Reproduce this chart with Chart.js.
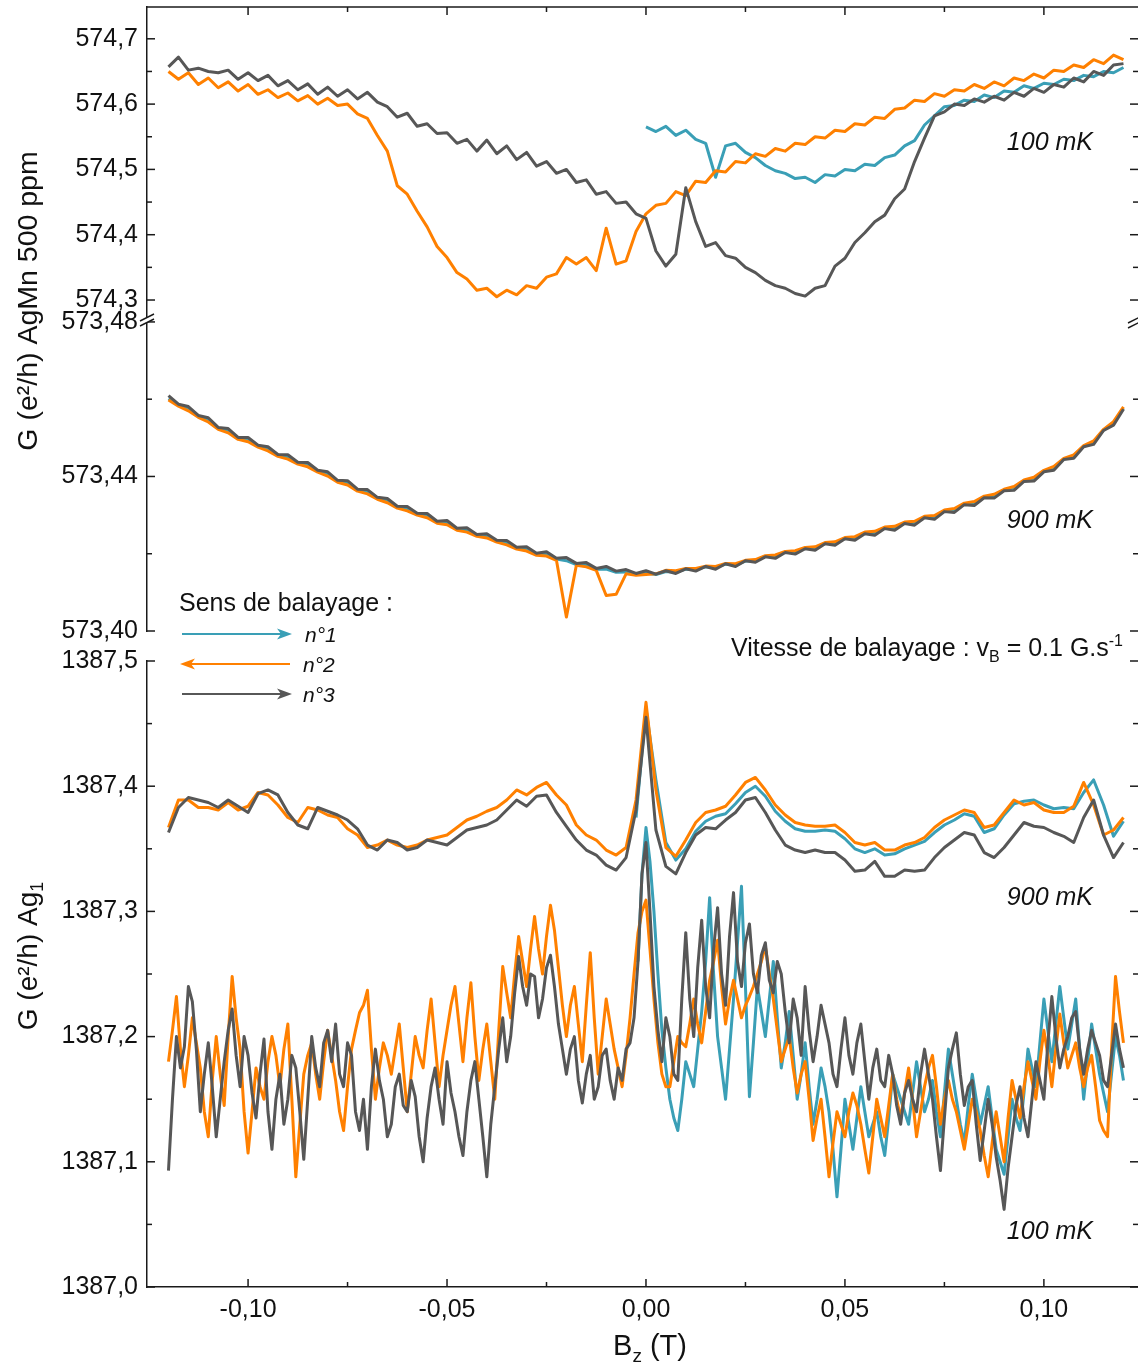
<!DOCTYPE html>
<html>
<head>
<meta charset="utf-8">
<title>G(Bz) AgMn / Ag1</title>
<script src="https://cdn.jsdelivr.net/npm/chart.js@4.4.1/dist/chart.umd.min.js"></script>
<style>
  html, body { margin: 0; padding: 0; background: #fff; }
  #wrap { width: 1138px; height: 1362px; }
</style>
</head>
<body>
<div id="wrap"><canvas id="myChart" width="1138" height="1362"></canvas></div>
<script>
// field sweeps, in mT
const fieldCoarse = [
  -120, -117.5, -115, -112.5, -110, -107.5, -105, -102.5, -100, -97.5,
  -95, -92.5, -90, -87.5, -85, -82.5, -80, -77.5, -75, -72.5,
  -70, -67.5, -65, -62.5, -60, -57.5, -55, -52.5, -50, -47.5,
  -45, -42.5, -40, -37.5, -35, -32.5, -30, -27.5, -25, -22.5,
  -20, -17.5, -15, -12.5, -10, -7.5, -5, -2.5, 0, 2.5,
  5, 7.5, 10, 12.5, 15, 17.5, 20, 22.5, 25, 27.5,
  30, 32.5, 35, 37.5, 40, 42.5, 45, 47.5, 50, 52.5,
  55, 57.5, 60, 62.5, 65, 67.5, 70, 72.5, 75, 77.5,
  80, 82.5, 85, 87.5, 90, 92.5, 95, 97.5, 100, 102.5,
  105, 107.5, 110, 112.5, 115, 117.5, 120
];
const fieldFine = [
  -120, -119, -118, -117, -116, -115, -114, -113, -112, -111,
  -110, -109, -108, -107, -106, -105, -104, -103, -102, -101,
  -100, -99, -98, -97, -96, -95, -94, -93, -92, -91,
  -90, -89, -88, -87, -86, -85, -84, -83, -82, -81,
  -80, -79, -78, -77, -76, -75, -74, -73, -72, -71,
  -70, -69, -68, -67, -66, -65, -64, -63, -62, -61,
  -60, -59, -58, -57, -56, -55, -54, -53, -52, -51,
  -50, -49, -48, -47, -46, -45, -44, -43, -42, -41,
  -40, -39, -38, -37, -36, -35, -34, -33, -32, -31,
  -30, -29, -28, -27, -26, -25, -24, -23, -22, -21,
  -20, -19, -18, -17, -16, -15, -14, -13, -12, -11,
  -10, -9, -8, -7, -6, -5, -4, -3, -2, -1,
  0, 1, 2, 3, 4, 5, 6, 7, 8, 9,
  10, 11, 12, 13, 14, 15, 16, 17, 18, 19,
  20, 21, 22, 23, 24, 25, 26, 27, 28, 29,
  30, 31, 32, 33, 34, 35, 36, 37, 38, 39,
  40, 41, 42, 43, 44, 45, 46, 47, 48, 49,
  50, 51, 52, 53, 54, 55, 56, 57, 58, 59,
  60, 61, 62, 63, 64, 65, 66, 67, 68, 69,
  70, 71, 72, 73, 74, 75, 76, 77, 78, 79,
  80, 81, 82, 83, 84, 85, 86, 87, 88, 89,
  90, 91, 92, 93, 94, 95, 96, 97, 98, 99,
  100, 101, 102, 103, 104, 105, 106, 107, 108, 109,
  110, 111, 112, 113, 114, 115, 116, 117, 118, 119,
  120
];

// AgMn 500 ppm, 100 mK (fieldCoarse)
const agmn100Teal = [
  null, null, null, null, null, null, null, null, null, null,
  null, null, null, null, null, null, null, null, null, null,
  null, null, null, null, null, null, null, null, null, null,
  null, null, null, null, null, null, null, null, null, null,
  null, null, null, null, null, null, null, null, 574.565, 574.558,
  574.566, 574.552, 574.560, 574.546, 574.540, 574.488, 574.536, 574.540, 574.526, 574.518,
  574.506, 574.498, 574.494, 574.486, 574.488, 574.480, 574.492, 574.490, 574.500, 574.498,
  574.508, 574.506, 574.518, 574.522, 574.536, 574.544, 574.568, 574.582, 574.596, 574.598,
  574.606, 574.604, 574.614, 574.610, 574.620, 574.618, 574.628, 574.624, 574.632, 574.630,
  574.638, 574.636, 574.644, 574.642, 574.650, 574.648, 574.656
];
const agmn100Orange = [
  574.650, 574.638, 574.648, 574.630, 574.640, 574.625, 574.634, 574.620, 574.630, 574.615,
  574.622, 574.610, 574.617, 574.605, 574.613, 574.600, 574.609, 574.598, 574.600, 574.585,
  574.578, 574.552, 574.528, 574.475, 574.462, 574.436, 574.412, 574.382, 574.365, 574.342,
  574.332, 574.315, 574.318, 574.305, 574.315, 574.308, 574.322, 574.318, 574.335, 574.340,
  574.365, 574.355, 574.365, 574.345, 574.410, 574.355, 574.360, 574.405, 574.432, 574.445,
  574.448, 574.466, 574.460, 574.482, 574.480, 574.498, 574.496, 574.512, 574.510, 574.524,
  574.520, 574.532, 574.528, 574.540, 574.538, 574.550, 574.548, 574.560, 574.558, 574.570,
  574.568, 574.580, 574.578, 574.592, 574.594, 574.606, 574.604, 574.616, 574.612, 574.622,
  574.620, 574.630, 574.624, 574.634, 574.628, 574.640, 574.636, 574.646, 574.640, 574.652,
  574.650, 574.660, 574.656, 574.668, 574.662, 574.675, 574.668
];
const agmn100Gray = [
  574.657, 574.672, 574.652, 574.655, 574.650, 574.648, 574.652, 574.638, 574.648, 574.636,
  574.644, 574.628, 574.636, 574.622, 574.631, 574.615, 574.626, 574.612, 574.622, 574.608,
  574.618, 574.603, 574.596, 574.580, 574.586, 574.566, 574.570, 574.555, 574.556, 574.540,
  574.546, 574.528, 574.545, 574.524, 574.536, 574.515, 574.526, 574.505, 574.512, 574.494,
  574.500, 574.480, 574.484, 574.462, 574.466, 574.448, 574.450, 574.432, 574.425, 574.375,
  574.352, 574.370, 574.472, 574.420, 574.382, 574.388, 574.368, 574.364, 574.350, 574.342,
  574.330, 574.322, 574.318, 574.310, 574.306, 574.318, 574.322, 574.352, 574.364, 574.388,
  574.403, 574.420, 574.430, 574.455, 574.470, 574.512, 574.548, 574.582, 574.588, 574.600,
  574.598, 574.608, 574.603, 574.612, 574.606, 574.618, 574.612, 574.624, 574.618, 574.630,
  574.626, 574.640, 574.634, 574.650, 574.644, 574.660, 574.662
];

// AgMn 500 ppm, 900 mK (fieldCoarse)
const agmn900Teal = [
  573.4601, 573.4585, 573.4574, 573.4556, 573.4545, 573.4525, 573.4517, 573.4499, 573.4494, 573.4479,
  573.4470, 573.4455, 573.4449, 573.4435, 573.4429, 573.4414, 573.4405, 573.4388, 573.4382, 573.4365,
  573.4359, 573.4344, 573.4336, 573.4321, 573.4315, 573.4303, 573.4297, 573.4282, 573.4279, 573.4264,
  573.4260, 573.4248, 573.4245, 573.4233, 573.4227, 573.4215, 573.4211, 573.4199, 573.4198, 573.4186,
  573.4182, 573.4172, 573.4170, 573.4160, 573.4160, 573.4152, 573.4153, 573.4147, 573.4150, 573.4146,
  573.4154, 573.4152, 573.4160, 573.4159, 573.4166, 573.4164, 573.4173, 573.4171, 573.4181, 573.4182,
  573.4193, 573.4194, 573.4204, 573.4205, 573.4214, 573.4215, 573.4227, 573.4228, 573.4240, 573.4241,
  573.4254, 573.4255, 573.4267, 573.4268, 573.4280, 573.4281, 573.4295, 573.4296, 573.4311, 573.4314,
  573.4329, 573.4332, 573.4347, 573.4351, 573.4365, 573.4371, 573.4389, 573.4395, 573.4414, 573.4423,
  573.4445, 573.4453, 573.4478, 573.4489, 573.4520, 573.4539, 573.4577
];
const agmn900Orange = [
  573.4598, 573.4582, 573.4570, 573.4553, 573.4541, 573.4522, 573.4513, 573.4496, 573.4490, 573.4476,
  573.4466, 573.4452, 573.4445, 573.4432, 573.4425, 573.4411, 573.4401, 573.4385, 573.4378, 573.4362,
  573.4355, 573.4341, 573.4332, 573.4318, 573.4311, 573.4300, 573.4293, 573.4279, 573.4275, 573.4261,
  573.4256, 573.4245, 573.4241, 573.4230, 573.4223, 573.4212, 573.4207, 573.4196, 573.4194, 573.4183,
  573.4036, 573.4170, 573.4166, 573.4157, 573.4092, 573.4095, 573.4148, 573.4144, 573.4146, 573.4148,
  573.4157, 573.4156, 573.4162, 573.4162, 573.4168, 573.4167, 573.4175, 573.4174, 573.4183, 573.4185,
  573.4195, 573.4197, 573.4206, 573.4208, 573.4216, 573.4218, 573.4229, 573.4231, 573.4242, 573.4244,
  573.4256, 573.4258, 573.4269, 573.4271, 573.4282, 573.4284, 573.4297, 573.4299, 573.4313, 573.4317,
  573.4331, 573.4335, 573.4349, 573.4354, 573.4367, 573.4374, 573.4391, 573.4398, 573.4416, 573.4426,
  573.4447, 573.4456, 573.4480, 573.4492, 573.4522, 573.4542, 573.4580
];
const agmn900Gray = [
  573.4609, 573.4587, 573.4581, 573.4558, 573.4552, 573.4527, 573.4524, 573.4501, 573.4501, 573.4481,
  573.4477, 573.4457, 573.4456, 573.4437, 573.4436, 573.4416, 573.4412, 573.4390, 573.4389, 573.4367,
  573.4366, 573.4346, 573.4343, 573.4323, 573.4322, 573.4305, 573.4304, 573.4284, 573.4286, 573.4266,
  573.4267, 573.4250, 573.4252, 573.4235, 573.4234, 573.4217, 573.4218, 573.4201, 573.4205, 573.4188,
  573.4190, 573.4175, 573.4177, 573.4162, 573.4167, 573.4155, 573.4159, 573.4149, 573.4156, 573.4147,
  573.4156, 573.4149, 573.4161, 573.4155, 573.4167, 573.4160, 573.4174, 573.4167, 573.4182, 573.4178,
  573.4192, 573.4188, 573.4203, 573.4199, 573.4213, 573.4209, 573.4226, 573.4222, 573.4239, 573.4235,
  573.4252, 573.4248, 573.4265, 573.4261, 573.4278, 573.4274, 573.4293, 573.4289, 573.4309, 573.4307,
  573.4327, 573.4325, 573.4345, 573.4344, 573.4363, 573.4364, 573.4387, 573.4388, 573.4412, 573.4416,
  573.4444, 573.4447, 573.4477, 573.4483, 573.4519, 573.4533, 573.4574
];

// Ag1, 900 mK (fieldCoarse)
const ag900Teal = [
  null, null, null, null, null, null, null, null, null, null,
  null, null, null, null, null, null, null, null, null, null,
  null, null, null, null, null, null, null, null, null, null,
  null, null, null, null, null, null, null, null, null, null,
  null, null, null, null, null, null, null, 1387.375, 1387.462, 1387.405,
  1387.355, 1387.341, 1387.350, 1387.364, 1387.372, 1387.376, 1387.378, 1387.386, 1387.395, 1387.400,
  1387.392, 1387.380, 1387.372, 1387.366, 1387.364, 1387.364, 1387.365, 1387.364, 1387.358, 1387.350,
  1387.347, 1387.350, 1387.345, 1387.346, 1387.350, 1387.353, 1387.356, 1387.363, 1387.369, 1387.373,
  1387.378, 1387.376, 1387.363, 1387.366, 1387.377, 1387.386, 1387.388, 1387.389, 1387.385, 1387.382,
  1387.383, 1387.382, 1387.395, 1387.405, 1387.385, 1387.360, 1387.372
];
const ag900Orange = [
  1387.367, 1387.389, 1387.389, 1387.383, 1387.383, 1387.381, 1387.387, 1387.381, 1387.384, 1387.395,
  1387.393, 1387.385, 1387.375, 1387.371, 1387.383, 1387.381, 1387.377, 1387.375, 1387.366, 1387.361,
  1387.351, 1387.353, 1387.357, 1387.353, 1387.351, 1387.353, 1387.357, 1387.359, 1387.361, 1387.367,
  1387.373, 1387.376, 1387.380, 1387.383, 1387.389, 1387.397, 1387.393, 1387.399, 1387.403, 1387.393,
  1387.385, 1387.369, 1387.361, 1387.357, 1387.349, 1387.345, 1387.351, 1387.389, 1387.467, 1387.397,
  1387.351, 1387.344, 1387.357, 1387.371, 1387.379, 1387.381, 1387.384, 1387.393, 1387.403, 1387.407,
  1387.397, 1387.385, 1387.377, 1387.371, 1387.369, 1387.368, 1387.368, 1387.369, 1387.363, 1387.355,
  1387.353, 1387.355, 1387.349, 1387.349, 1387.353, 1387.355, 1387.359, 1387.367, 1387.373, 1387.377,
  1387.381, 1387.379, 1387.367, 1387.369, 1387.379, 1387.389, 1387.385, 1387.387, 1387.381, 1387.379,
  1387.379, 1387.384, 1387.403, 1387.385, 1387.361, 1387.365, 1387.375
];
const ag900Gray = [
  1387.363, 1387.383, 1387.391, 1387.389, 1387.387, 1387.383, 1387.389, 1387.384, 1387.379, 1387.394,
  1387.397, 1387.393, 1387.379, 1387.369, 1387.366, 1387.383, 1387.380, 1387.377, 1387.373, 1387.366,
  1387.353, 1387.349, 1387.357, 1387.355, 1387.349, 1387.351, 1387.357, 1387.355, 1387.353, 1387.359,
  1387.365, 1387.367, 1387.369, 1387.373, 1387.381, 1387.389, 1387.384, 1387.392, 1387.393, 1387.379,
  1387.368, 1387.357, 1387.349, 1387.345, 1387.337, 1387.333, 1387.343, 1387.381, 1387.455, 1387.365,
  1387.336, 1387.330, 1387.347, 1387.361, 1387.367, 1387.366, 1387.373, 1387.379, 1387.389, 1387.391,
  1387.379, 1387.365, 1387.353, 1387.349, 1387.347, 1387.349, 1387.347, 1387.347, 1387.341, 1387.332,
  1387.333, 1387.340, 1387.328, 1387.328, 1387.333, 1387.332, 1387.333, 1387.343, 1387.351, 1387.357,
  1387.363, 1387.361, 1387.347, 1387.343, 1387.351, 1387.361, 1387.371, 1387.368, 1387.367, 1387.363,
  1387.360, 1387.355, 1387.375, 1387.389, 1387.361, 1387.343, 1387.355
];

// Ag1, 100 mK (fieldFine); sweep n°1 only recorded from -2 mT upward
const ag100Teal = [
  1387.260, 1387.330,
  1387.367, 1387.340, 1387.300, 1387.250, 1387.205, 1387.175, 1387.150, 1387.135, 1387.125, 1387.150,
  1387.180, 1387.170, 1387.160, 1387.190, 1387.220, 1387.260, 1387.311, 1387.250, 1387.200, 1387.175,
  1387.150, 1387.190, 1387.230, 1387.275, 1387.320, 1387.240, 1387.152, 1387.195, 1387.240, 1387.220,
  1387.200, 1387.230, 1387.260, 1387.215, 1387.175, 1387.195, 1387.220, 1387.185, 1387.150, 1387.170,
  1387.195, 1387.160, 1387.130, 1387.150, 1387.175, 1387.160, 1387.140, 1387.110, 1387.072, 1387.110,
  1387.150, 1387.130, 1387.110, 1387.135, 1387.160, 1387.140, 1387.120, 1387.130, 1387.140, 1387.120,
  1387.105, 1387.135, 1387.170, 1387.160, 1387.150, 1387.140, 1387.130, 1387.155, 1387.180, 1387.160,
  1387.140, 1387.150, 1387.165, 1387.140, 1387.120, 1387.155, 1387.190, 1387.170, 1387.150, 1387.130,
  1387.115, 1387.145, 1387.170, 1387.150, 1387.130, 1387.145, 1387.160, 1387.135, 1387.110, 1387.100,
  1387.090, 1387.120, 1387.150, 1387.135, 1387.125, 1387.155, 1387.190, 1387.175, 1387.160, 1387.195,
  1387.230, 1387.205, 1387.180, 1387.210, 1387.240, 1387.215, 1387.190, 1387.210, 1387.230, 1387.190,
  1387.150, 1387.180, 1387.210, 1387.190, 1387.170, 1387.155, 1387.140, 1387.170, 1387.200, 1387.185,
  1387.165
];
const ag100Orange = [
  1387.180, 1387.205, 1387.232, 1387.190, 1387.160, 1387.185, 1387.215, 1387.195, 1387.175, 1387.140,
  1387.120, 1387.165, 1387.200, 1387.170, 1387.145, 1387.200, 1387.248, 1387.215, 1387.190, 1387.140,
  1387.107, 1387.140, 1387.175, 1387.160, 1387.150, 1387.180, 1387.200, 1387.185, 1387.160, 1387.190,
  1387.210, 1387.150, 1387.088, 1387.130, 1387.170, 1387.185, 1387.195, 1387.170, 1387.150, 1387.180,
  1387.205, 1387.185, 1387.165, 1387.140, 1387.125, 1387.160, 1387.190, 1387.205, 1387.219, 1387.225,
  1387.237, 1387.190, 1387.150, 1387.175, 1387.195, 1387.185, 1387.170, 1387.190, 1387.210, 1387.175,
  1387.140, 1387.170, 1387.200, 1387.185, 1387.175, 1387.205, 1387.230, 1387.195, 1387.160, 1387.185,
  1387.205, 1387.225, 1387.240, 1387.210, 1387.180, 1387.215, 1387.243, 1387.200, 1387.165, 1387.190,
  1387.210, 1387.180, 1387.150, 1387.205, 1387.256, 1387.235, 1387.215, 1387.250, 1387.280, 1387.260,
  1387.240, 1387.270, 1387.296, 1387.270, 1387.250, 1387.280, 1387.305, 1387.285, 1387.255, 1387.225,
  1387.200, 1387.225, 1387.240, 1387.210, 1387.180, 1387.225, 1387.267, 1387.215, 1387.170, 1387.200,
  1387.230, 1387.210, 1387.190, 1387.175, 1387.160, 1387.185, 1387.215, 1387.250, 1387.283, 1387.300,
  1387.309, 1387.270, 1387.230, 1387.195, 1387.170, 1387.160, 1387.160, 1387.180, 1387.200, 1387.195,
  1387.192, 1387.210, 1387.230, 1387.210, 1387.195, 1387.220, 1387.245, 1387.260, 1387.277, 1387.240,
  1387.210, 1387.230, 1387.245, 1387.230, 1387.215, 1387.225, 1387.232, 1387.240, 1387.250, 1387.260,
  1387.272, 1387.250, 1387.230, 1387.205, 1387.180, 1387.190, 1387.200, 1387.175, 1387.155, 1387.170,
  1387.180, 1387.150, 1387.117, 1387.135, 1387.150, 1387.120, 1387.088, 1387.115, 1387.140, 1387.130,
  1387.120, 1387.140, 1387.155, 1387.145, 1387.130, 1387.110, 1387.091, 1387.120, 1387.150, 1387.135,
  1387.120, 1387.145, 1387.170, 1387.150, 1387.135, 1387.155, 1387.175, 1387.150, 1387.120, 1387.140,
  1387.160, 1387.175, 1387.185, 1387.160, 1387.130, 1387.150, 1387.165, 1387.150, 1387.140, 1387.125,
  1387.110, 1387.130, 1387.150, 1387.140, 1387.125, 1387.105, 1387.088, 1387.115, 1387.140, 1387.120,
  1387.100, 1387.135, 1387.165, 1387.150, 1387.135, 1387.160, 1387.180, 1387.165, 1387.150, 1387.180,
  1387.205, 1387.185, 1387.160, 1387.190, 1387.218, 1387.195, 1387.175, 1387.185, 1387.195, 1387.175,
  1387.160, 1387.175, 1387.185, 1387.160, 1387.133, 1387.125, 1387.120, 1387.190, 1387.248, 1387.220,
  1387.195
];
const ag100Gray = [
  1387.093, 1387.150, 1387.200, 1387.175, 1387.192, 1387.240, 1387.228, 1387.190, 1387.140, 1387.170,
  1387.195, 1387.160, 1387.120, 1387.150, 1387.180, 1387.205, 1387.222, 1387.185, 1387.160, 1387.200,
  1387.185, 1387.155, 1387.135, 1387.170, 1387.198, 1387.140, 1387.110, 1387.150, 1387.170, 1387.130,
  1387.150, 1387.185, 1387.175, 1387.140, 1387.102, 1387.150, 1387.200, 1387.175, 1387.160, 1387.195,
  1387.205, 1387.180, 1387.210, 1387.170, 1387.160, 1387.195, 1387.185, 1387.140, 1387.125, 1387.150,
  1387.110, 1387.160, 1387.190, 1387.165, 1387.150, 1387.120, 1387.130, 1387.160, 1387.170, 1387.145,
  1387.140, 1387.165, 1387.152, 1387.120, 1387.100, 1387.135, 1387.160, 1387.175, 1387.150, 1387.130,
  1387.180, 1387.155, 1387.140, 1387.120, 1387.105, 1387.140, 1387.165, 1387.180, 1387.150, 1387.120,
  1387.088, 1387.130, 1387.160, 1387.190, 1387.215, 1387.180, 1387.200, 1387.235, 1387.264, 1387.240,
  1387.225, 1387.250, 1387.248, 1387.215, 1387.230, 1387.255, 1387.265, 1387.240, 1387.210, 1387.190,
  1387.170, 1387.190, 1387.200, 1387.165, 1387.147, 1387.170, 1387.185, 1387.150, 1387.160, 1387.185,
  1387.190, 1387.165, 1387.150, 1387.175, 1387.165, 1387.190, 1387.195, 1387.215, 1387.260, 1387.330,
  1387.355, 1387.300, 1387.240, 1387.205, 1387.180, 1387.215, 1387.200, 1387.170, 1387.165, 1387.230,
  1387.283, 1387.230, 1387.200, 1387.255, 1387.293, 1387.240, 1387.215, 1387.270, 1387.303, 1387.250,
  1387.225, 1387.280, 1387.315, 1387.260, 1387.240, 1387.275, 1387.290, 1387.250, 1387.235, 1387.265,
  1387.275, 1387.245, 1387.235, 1387.260, 1387.250, 1387.220, 1387.195, 1387.230, 1387.215, 1387.185,
  1387.240, 1387.205, 1387.180, 1387.200, 1387.225, 1387.210, 1387.195, 1387.170, 1387.160, 1387.190,
  1387.215, 1387.185, 1387.170, 1387.195, 1387.210, 1387.180, 1387.150, 1387.175, 1387.190, 1387.165,
  1387.160, 1387.185, 1387.170, 1387.145, 1387.130, 1387.155, 1387.165, 1387.150, 1387.140, 1387.170,
  1387.190, 1387.170, 1387.150, 1387.120, 1387.093, 1387.135, 1387.175, 1387.190, 1387.203, 1387.170,
  1387.145, 1387.160, 1387.165, 1387.130, 1387.101, 1387.125, 1387.150, 1387.130, 1387.104, 1387.085,
  1387.062, 1387.095, 1387.120, 1387.145, 1387.160, 1387.135, 1387.120, 1387.150, 1387.180, 1387.165,
  1387.150, 1387.195, 1387.232, 1387.200, 1387.175, 1387.190, 1387.200, 1387.215, 1387.220, 1387.190,
  1387.170, 1387.190, 1387.205, 1387.195, 1387.185, 1387.165, 1387.160, 1387.185, 1387.210, 1387.190,
  1387.175
];

// ticks
const xTicksMajor = [-0.10, -0.05, 0, 0.05, 0.10];
const xTickLabels = ["-0,10", "-0,05", "0,00", "0,05", "0,10"];
const xTicksMinor = [-0.075, -0.025, 0.025, 0.075];
const topTicksMajor = [574.3, 574.4, 574.5, 574.6, 574.7];
const topTickLabels = ["574,3", "574,4", "574,5", "574,6", "574,7"];
const topTicksMinor = [574.35, 574.45, 574.55, 574.65];
const midTicksMajor = [573.40, 573.44, 573.48];
const midTickLabels = ["573,40", "573,44", "573,48"];
const midTicksMinor = [573.42, 573.46];
const botTicksMajor = [1387.0, 1387.1, 1387.2, 1387.3, 1387.4, 1387.5];
const botTickLabels = ["1387,0", "1387,1", "1387,2", "1387,3", "1387,4", "1387,5"];
const botTicksMinor = [1387.05, 1387.15, 1387.25, 1387.35, 1387.45];

const TEAL = "#3a9fb6";
const ORANGE = "#ff8000";
const GRAY = "#575757";
const INK = "#1a1a1a";
const FAMILY = "'Liberation Sans', Arial, sans-serif";

// shorter series are aligned on the end of the sweep
const toXY = (fields, values) => {
  const off = fields.length - values.length;
  return values.map((v, i) => ({ x: fields[i + off] / 1000, y: v }));
};

const trace = (label, color, yAxisID, fields, values, order) => ({
  label,
  data: toXY(fields, values),
  yAxisID,
  borderColor: color,
  backgroundColor: color,
  borderWidth: 3,
  borderJoinStyle: "round",
  pointRadius: 0,
  tension: 0,
  order,
});

const tickSetup = (majors, labels, minors) => ({
  afterBuildTicks: scale => {
    scale.ticks = majors.concat(minors).map(v => ({ value: v }));
  },
  callback: value => {
    const k = majors.findIndex(m => Math.abs(m - value) < 1e-7);
    return k >= 0 ? labels[k] : "";
  },
});

const yAxis = (majors, labels, minors, min, max, weight, stackWeight) => {
  const t = tickSetup(majors, labels, minors);
  return {
    type: "linear",
    position: "left",
    stack: "panels",
    stackWeight,
    weight,
    min,
    max,
    grid: { display: false, drawTicks: false },
    border: { display: true, color: INK, width: 1.5 },
    ticks: { autoSkip: false, padding: 9, color: "#111", font: { family: FAMILY, size: 25 }, callback: t.callback },
    afterBuildTicks: t.afterBuildTicks,
    afterFit: scale => {
      scale.width = 147;
      scale.paddingTop = 0;
      scale.paddingBottom = 0;
    },
  };
};

const line = (ctx, x1, y1, x2, y2) => {
  ctx.beginPath();
  ctx.moveTo(x1, y1);
  ctx.lineTo(x2, y2);
  ctx.stroke();
};

// text made of runs (normal / sub / sup)
const runs = (ctx, parts, x, y, align) => {
  let total = 0;
  parts.forEach(p => {
    ctx.font = `${p.italic ? "italic " : ""}${p.size}px ${FAMILY}`;
    p.w = ctx.measureText(p.text).width;
    total += p.w;
  });
  let cx = align === "right" ? x - total : align === "center" ? x - total / 2 : x;
  parts.forEach(p => {
    ctx.font = `${p.italic ? "italic " : ""}${p.size}px ${FAMILY}`;
    ctx.fillText(p.text, cx, y + (p.dy || 0));
    cx += p.w;
  });
};

const arrow = (ctx, color, x1, x2, y) => {
  const dir = Math.sign(x2 - x1);
  ctx.strokeStyle = color;
  ctx.fillStyle = color;
  ctx.lineWidth = 2;
  line(ctx, x1, y, x2 - dir * 10, y);
  ctx.beginPath();
  ctx.moveTo(x2, y);
  ctx.lineTo(x2 - dir * 15, y - 5.5);
  ctx.lineTo(x2 - dir * 11, y);
  ctx.lineTo(x2 - dir * 15, y + 5.5);
  ctx.closePath();
  ctx.fill();
};

const breakMark = (ctx, cx, cy) => {
  ctx.fillStyle = "#fff";
  ctx.beginPath();
  ctx.moveTo(cx - 7, cy + 1);
  ctx.lineTo(cx + 7, cy - 6);
  ctx.lineTo(cx + 7, cy - 1);
  ctx.lineTo(cx - 7, cy + 6);
  ctx.closePath();
  ctx.fill();
  ctx.strokeStyle = INK;
  ctx.lineWidth = 1.5;
  line(ctx, cx - 7, cy + 1, cx + 7, cy - 6);
  line(ctx, cx - 7, cy + 6, cx + 7, cy - 1);
};

const decor = {
  id: "decor",
  afterDraw(chart) {
    const { ctx, chartArea: area, scales } = chart;
    const L = area.left, R = 1138, T = area.top, B = area.bottom;
    ctx.save();
    ctx.strokeStyle = INK;
    ctx.lineWidth = 1.5;
    line(ctx, L, T, R, T);

    // inward ticks
    scales.x.ticks.forEach(t => {
      const len = t.label ? 8 : 5;
      const px = scales.x.getPixelForValue(t.value);
      line(ctx, px, B, px, B - len);
      line(ctx, px, T, px, T + len);
    });
    ["yTop", "yMid", "yBot"].forEach(id => {
      const s = scales[id];
      s.ticks.forEach(t => {
        const len = t.label ? 8 : 5;
        const py = s.getPixelForValue(t.value);
        line(ctx, L, py, L + len, py);
        line(ctx, R, py, R - len, py);
      });
    });

    // axis break between the two AgMn panels
    const yb = scales.yTop.bottom;
    breakMark(ctx, L, yb);
    breakMark(ctx, R - 3, yb + 2);

    // legend
    ctx.fillStyle = "#111";
    ctx.textBaseline = "alphabetic";
    runs(ctx, [{ text: "Sens de balayage :", size: 25 }], 179, 611, "left");
    arrow(ctx, TEAL, 182, 292, 634);
    arrow(ctx, ORANGE, 290, 180, 664);
    arrow(ctx, GRAY, 182, 292, 694);
    ctx.fillStyle = "#111";
    runs(ctx, [{ text: "n°1", size: 21, italic: true }], 305, 642, "left");
    runs(ctx, [{ text: "n°2", size: 21, italic: true }], 303, 672, "left");
    runs(ctx, [{ text: "n°3", size: 21, italic: true }], 303, 702, "left");

    // annotations
    runs(ctx, [{ text: "100 mK", size: 25, italic: true }], 1093, 150, "right");
    runs(ctx, [{ text: "900 mK", size: 25, italic: true }], 1093, 528, "right");
    runs(ctx, [{ text: "900 mK", size: 25, italic: true }], 1093, 905, "right");
    runs(ctx, [{ text: "100 mK", size: 25, italic: true }], 1093, 1239, "right");
    runs(ctx, [
      { text: "Vitesse de balayage : v", size: 25 },
      { text: "B", size: 16, dy: 6 },
      { text: " = 0.1 G.s", size: 25 },
      { text: "-1", size: 16, dy: -10 },
    ], 1123, 656, "right");

    // axis titles
    runs(ctx, [
      { text: "B", size: 29 },
      { text: "z", size: 19, dy: 7 },
      { text: " (T)", size: 29 },
    ], 650, 1355, "center");

    ctx.save();
    ctx.translate(37, 301);
    ctx.rotate(-Math.PI / 2);
    runs(ctx, [{ text: "G (e²/h) AgMn 500 ppm", size: 28.5 }], 0, 0, "center");
    ctx.restore();

    ctx.save();
    ctx.translate(37, 956);
    ctx.rotate(-Math.PI / 2);
    runs(ctx, [
      { text: "G (e²/h) Ag", size: 28 },
      { text: "1", size: 18, dy: 6 },
    ], 0, 0, "center");
    ctx.restore();

    ctx.restore();
  },
};

const xt = tickSetup(xTicksMajor, xTickLabels, xTicksMinor);

const ctx = document.querySelector("#myChart");
const myChart = new Chart(ctx, {
  type: "line",
  data: {
    datasets: [
      trace("n°3", GRAY, "yTop", fieldCoarse, agmn100Gray, 1),
      trace("n°2", ORANGE, "yTop", fieldCoarse, agmn100Orange, 2),
      trace("n°1", TEAL, "yTop", fieldCoarse, agmn100Teal, 3),
      trace("n°3", GRAY, "yMid", fieldCoarse, agmn900Gray, 1),
      trace("n°2", ORANGE, "yMid", fieldCoarse, agmn900Orange, 2),
      trace("n°1", TEAL, "yMid", fieldCoarse, agmn900Teal, 3),
      trace("n°3", GRAY, "yBot", fieldCoarse, ag900Gray, 1),
      trace("n°2", ORANGE, "yBot", fieldCoarse, ag900Orange, 2),
      trace("n°1", TEAL, "yBot", fieldCoarse, ag900Teal, 3),
      trace("n°3", GRAY, "yBot", fieldFine, ag100Gray, 1),
      trace("n°2", ORANGE, "yBot", fieldFine, ag100Orange, 2),
      trace("n°1", TEAL, "yBot", fieldFine, ag100Teal, 3),
    ],
  },
  options: {
    responsive: false,
    animation: false,
    devicePixelRatio: 1,
    layout: { padding: { top: 7, right: 1, left: 0, bottom: 0 } },
    scales: {
      x: {
        type: "linear",
        position: "bottom",
        min: -0.1254,
        max: 0.1234,
        grid: { display: false, drawTicks: false },
        border: { display: true, color: INK, width: 1.5 },
        ticks: { autoSkip: false, maxRotation: 0, padding: 8, color: "#111", font: { family: FAMILY, size: 25 }, callback: xt.callback },
        afterBuildTicks: xt.afterBuildTicks,
        afterFit: scale => {
          scale.height = 75;
          scale.paddingLeft = 0;
          scale.paddingRight = 0;
        },
      },
      yBot: yAxis(botTicksMajor, botTickLabels, botTicksMinor, 1387.0, 1387.5, 1, 626),
      yGap: { type: "linear", position: "left", stack: "panels", stackWeight: 30, weight: 2, display: false, min: 0, max: 1 },
      yMid: yAxis(midTicksMajor, midTickLabels, midTicksMinor, 573.40, 573.4805, 3, 311),
      yTop: yAxis(topTicksMajor, topTickLabels, topTicksMinor, 574.2694, 574.7487, 4, 313),
    },
    plugins: {
      legend: { display: false },
      tooltip: { enabled: false },
    },
  },
  plugins: [decor],
});
</script>
</body>
</html>
